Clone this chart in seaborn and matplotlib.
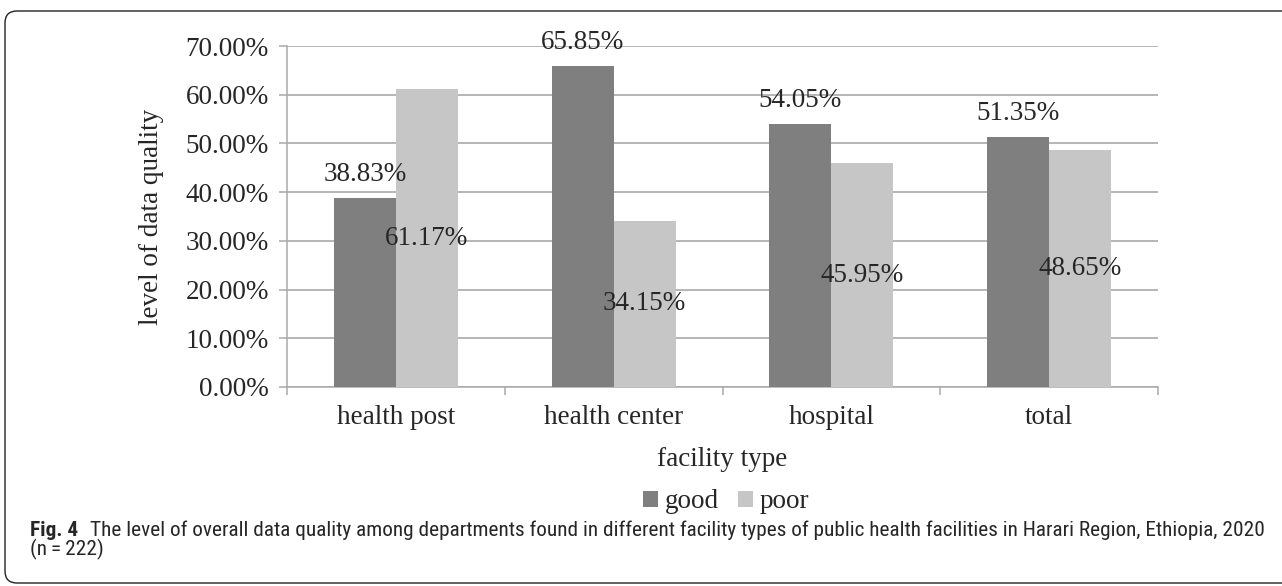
import matplotlib
matplotlib.use("Agg")
import matplotlib.pyplot as plt
import matplotlib.patches as mpatches
from matplotlib import font_manager
from matplotlib.font_manager import FontProperties
import seaborn as sns
import pandas as pd

# ---- data ----
facility_types = ["health post", "health center", "hospital", "total"]
good_values = [38.83, 65.85, 54.05, 51.35]
poor_values = [61.17, 34.15, 45.95, 48.65]
series_names = ["good", "poor"]
y_ticks = [0, 10, 20, 30, 40, 50, 60, 70]
x_title = "facility type"
y_title = "level of data quality"
caption_bold = "Fig. 4"
caption_rest = ("The level of overall data quality among departments found in different facility types "
                "of public health facilities in Harari Region, Ethiopia, 2020")
caption_line2 = "(n\u2009=\u2009222)"

df = pd.DataFrame({
    "facility": facility_types * 2,
    "quality": series_names[0:1] * 4 + series_names[1:2] * 4,
    "value": good_values + poor_values,
})

sns.set_style("white")
plt.rcParams["font.family"] = ["Liberation Serif", "DejaVu Serif"]

W, H = 1282, 586
fig = plt.figure(figsize=(W / 100, H / 100), dpi=100)

GOOD = "#7f7f7f"
POOR = "#c6c6c6"
GRID = "#a9a9a9"
FS = 19.5

ax = fig.add_axes([287 / W, (H - 387) / H, 871 / W, 341 / H])
sns.barplot(data=df, x="facility", y="value", hue="quality", order=facility_types,
            hue_order=series_names, palette=[GOOD, POOR], width=0.57, saturation=1,
            edgecolor="none", linewidth=0, ax=ax, zorder=3)

ax.set_ylim(0, 70)
ax.set_xlim(-0.5, len(facility_types) - 0.5)
ax.set_yticks(y_ticks)
ax.set_yticklabels([f"{v:.2f}%" for v in y_ticks], fontsize=FS)
ax.yaxis.grid(True, color=GRID, linewidth=1.2, zorder=0)
ax.set_axisbelow(True)
ax.tick_params(axis="y", length=6, width=1.1, color=GRID, pad=7, left=True)
ax.set_xticks(range(len(facility_types)))
ax.set_xticklabels(facility_types, fontsize=FS)
ax.tick_params(axis="x", which="major", length=0, pad=13)
ax.set_xticks([i - 0.5 for i in range(len(facility_types) + 1)], minor=True)
ax.tick_params(axis="x", which="minor", length=6, width=1.1, color=GRID, bottom=True)

for side in ["top", "right"]:
    ax.spines[side].set_visible(False)
for side in ["left", "bottom"]:
    ax.spines[side].set_color(GRID)
    ax.spines[side].set_linewidth(1.1)

ax.set_xlabel(x_title, fontsize=FS)
ax.set_ylabel(y_title, fontsize=FS)
ax.xaxis.label.set_va("center")
ax.yaxis.label.set_va("center")
ax.xaxis.set_label_coords(0.5, -(460 - 387) / 341)
ax.yaxis.set_label_coords(-(287 - 152) / 871, 0.5)

# bar labels
good_cont, poor_cont = ax.containers[0], ax.containers[1]
ax.bar_label(good_cont, labels=[f"{v:.2f}%" for v in good_values], padding=8,
             fontsize=FS, zorder=5)
ax.bar_label(poor_cont, labels=[f"{v:.2f}%" for v in poor_values], label_type="center",
             fontsize=FS, zorder=5)

# legend
leg_old = ax.get_legend()
if leg_old is not None:
    leg_old.remove()
handles = [mpatches.Patch(facecolor=GOOD, edgecolor="none"),
           mpatches.Patch(facecolor=POOR, edgecolor="none")]
fig.legend(handles, series_names, loc="center", bbox_to_anchor=(726 / W, (H - 502) / H),
           ncol=2, frameon=False, fontsize=FS, handlelength=0.55, handleheight=0.55,
           handletextpad=0.25, columnspacing=0.7, borderpad=0, borderaxespad=0)

# outer rounded frame
over = fig.add_axes([0, 0, 1, 1], zorder=-1)
over.set_xlim(0, W)
over.set_ylim(H, 0)
over.axis("off")
over.add_patch(mpatches.FancyBboxPatch((5, 11), W + 40, 572,
                                       boxstyle="round,pad=0,rounding_size=12",
                                       facecolor="none", edgecolor="#222222", linewidth=1.0))


# caption font: prefer a condensed humanist sans if installed
def find_font(bold):
    prefs = ["NotoSans-Condensed", "LiberationSansNarrow", "OpenSans-Condensed",
             "OpenSans_Condensed", "Roboto-Condensed", "RobotoCondensed"]
    files = [f.fname for f in font_manager.fontManager.ttflist]
    for p in prefs:
        for fn in sorted(files):
            base = fn.split("/")[-1]
            if not base.startswith(p):
                continue
            rest = base[len(p):].lower()
            if bold and rest.lstrip("-_").startswith("bold"):
                return FontProperties(fname=fn)
            if not bold and rest.lstrip("-_") in ("regular.ttf", ".ttf", "regular.otf", ".otf"):
                return FontProperties(fname=fn)
    return FontProperties(family=["Lato", "Open Sans", "DejaVu Sans"],
                          weight="bold" if bold else "normal")


fp_reg = find_font(False)
fp_bold = find_font(True)

x0 = 30
target_right = 1264
size = 12.0
fig.canvas.draw()
r = fig.canvas.get_renderer()
t1 = fig.text(x0 / W, (H - 536) / H, caption_bold, fontproperties=fp_bold, fontsize=size,
              va="baseline", ha="left")
t2 = fig.text(0, (H - 536) / H, caption_rest, fontproperties=fp_reg, fontsize=size,
              va="baseline", ha="left")
w1 = t1.get_window_extent(r).width
w2 = t2.get_window_extent(r).width
gap = 0.55 * size * 100 / 72
scale = (target_right - x0) / (w1 + gap + w2)
size *= scale
t1.set_fontsize(size)
t2.set_fontsize(size)
w1 = t1.get_window_extent(r).width
gap = 0.55 * size * 100 / 72
t2.set_x((x0 + w1 + gap) / W)
fig.text(x0 / W, (H - 555) / H, caption_line2, fontproperties=fp_reg, fontsize=size,
         va="baseline", ha="left")

fig.savefig("out.png", dpi=100)
